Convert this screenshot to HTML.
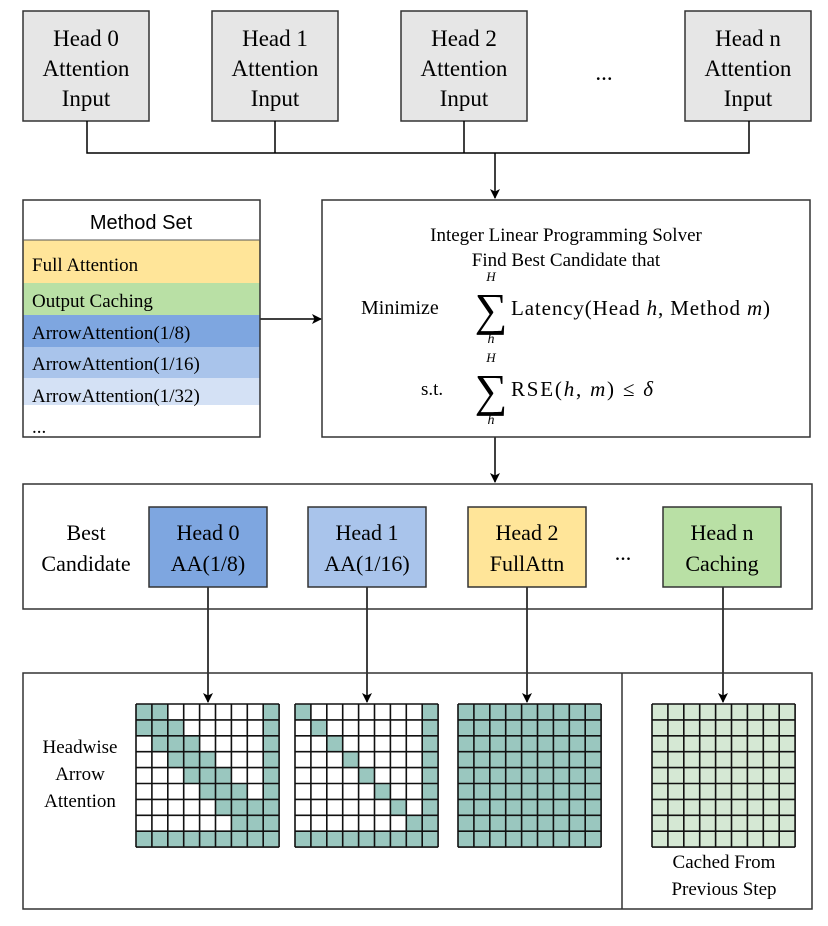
<!DOCTYPE html>
<html><head><meta charset="utf-8"><style>
html,body{margin:0;padding:0;background:#fff;}
svg{display:block;}
text{font-family:"Liberation Serif",serif;fill:#000;}
.s{font-family:"Liberation Sans",sans-serif;}
</style></head><body>
<svg width="828" height="926" viewBox="0 0 828 926" xmlns="http://www.w3.org/2000/svg">
<defs>
<marker id="ar" markerWidth="10" markerHeight="10" refX="9" refY="5" orient="auto" markerUnits="userSpaceOnUse">
<path d="M0,0 L10,5 L0,10 L2.5,5 z" fill="#000"/></marker>
</defs>
<g stroke="#333" stroke-width="1.5" fill="#e6e6e6">
<rect x="23" y="11" width="126" height="110"/>
<rect x="212" y="11" width="126" height="110"/>
<rect x="401" y="11" width="126" height="110"/>
<rect x="685" y="11" width="126" height="110"/>
</g>
<g font-size="23" text-anchor="middle">
<text x="86" y="46">Head 0</text><text x="86" y="76">Attention</text><text x="86" y="106">Input</text>
<text x="275" y="46">Head 1</text><text x="275" y="76">Attention</text><text x="275" y="106">Input</text>
<text x="464" y="46">Head 2</text><text x="464" y="76">Attention</text><text x="464" y="106">Input</text>
<text x="748" y="46">Head n</text><text x="748" y="76">Attention</text><text x="748" y="106">Input</text>
<text x="604" y="80">...</text>
</g>
<g stroke="#000" stroke-width="1.5" fill="none">
<path d="M87 121 V153 H749 V121 M275 121 V153 M464 121 V153"/>
<path d="M495 153 V198" marker-end="url(#ar)"/>
<path d="M260 319 H321" marker-end="url(#ar)"/>
<path d="M495 437 V482" marker-end="url(#ar)"/>
<path d="M208 587 V702" marker-end="url(#ar)"/>
<path d="M367 587 V702" marker-end="url(#ar)"/>
<path d="M527 587 V702" marker-end="url(#ar)"/>
<path d="M723 587 V702" marker-end="url(#ar)"/>
</g>
<rect x="23" y="240" width="237" height="43" fill="#ffe599"/>
<rect x="23" y="283" width="237" height="32" fill="#b9e0a5"/>
<rect x="23" y="315" width="237" height="32" fill="#7ea6e0"/>
<rect x="23" y="347" width="237" height="31" fill="#a9c4eb"/>
<rect x="23" y="378" width="237" height="27" fill="#d4e1f5"/>
<rect x="23" y="200" width="237" height="237" fill="none" stroke="#333" stroke-width="1.5"/>
<line x1="23" y1="240" x2="260" y2="240" stroke="#555" stroke-width="1"/>
<text class="s" x="141" y="229" font-size="20" text-anchor="middle">Method Set</text>
<g font-size="19">
<text x="32" y="271">Full Attention</text>
<text x="32" y="307">Output Caching</text>
<text x="32" y="339">ArrowAttention(1/8)</text>
<text x="32" y="370">ArrowAttention(1/16)</text>
<text x="32" y="402">ArrowAttention(1/32)</text>
<text x="32" y="433">...</text>
</g>
<rect x="322" y="200" width="488" height="237" fill="#fff" stroke="#333" stroke-width="1.5"/>
<g font-size="19">
<text x="566" y="241" text-anchor="middle">Integer Linear Programming Solver</text>
<text x="566" y="266" text-anchor="middle">Find Best Candidate that</text>
<text x="361" y="314" font-size="20">Minimize</text>
<text x="491" y="281" font-size="13" font-style="italic" text-anchor="middle">H</text>
<text x="491" y="325" font-size="46" text-anchor="middle">∑</text>
<text x="491" y="343" font-size="14" font-style="italic" text-anchor="middle">h</text>
<text x="511" y="315" font-size="21" textLength="259" lengthAdjust="spacing">Latency(Head <tspan font-style="italic">h</tspan>, Method <tspan font-style="italic">m</tspan>)</text>
<text x="421" y="395">s.t.</text>
<text x="491" y="362" font-size="13" font-style="italic" text-anchor="middle">H</text>
<text x="491" y="406" font-size="46" text-anchor="middle">∑</text>
<text x="491" y="424" font-size="14" font-style="italic" text-anchor="middle">h</text>
<text x="511" y="396" font-size="21" textLength="142" lengthAdjust="spacing">RSE(<tspan font-style="italic">h</tspan>, <tspan font-style="italic">m</tspan>) ≤ <tspan font-style="italic">δ</tspan></text>
</g>
<rect x="23" y="484" width="789" height="125" fill="none" stroke="#333" stroke-width="1.5"/>
<g stroke="#333" stroke-width="1.5">
<rect x="149" y="507" width="118" height="80" fill="#7ea6e0"/>
<rect x="308" y="507" width="118" height="80" fill="#a9c4eb"/>
<rect x="468" y="507" width="118" height="80" fill="#ffe599"/>
<rect x="663" y="507" width="118" height="80" fill="#b9e0a5"/>
</g>
<g font-size="22" text-anchor="middle">
<text x="86" y="540">Best</text><text x="86" y="571">Candidate</text>
<text x="208" y="540">Head 0</text><text x="208" y="571">AA(1/8)</text>
<text x="367" y="540">Head 1</text><text x="367" y="571">AA(1/16)</text>
<text x="527" y="540">Head 2</text><text x="527" y="571">FullAttn</text>
<text x="722" y="540">Head n</text><text x="722" y="571">Caching</text>
<text x="623" y="560">...</text>
</g>
<rect x="23" y="673" width="789" height="236" fill="none" stroke="#333" stroke-width="1.5"/>
<line x1="622" y1="673" x2="622" y2="909" stroke="#333" stroke-width="1.5"/>
<g font-size="19" text-anchor="middle">
<text x="80" y="753">Headwise</text><text x="80" y="780">Arrow</text><text x="80" y="807">Attention</text>
<text x="724" y="868">Cached From</text><text x="724" y="895">Previous Step</text>
</g>
<g transform="translate(136,704) scale(15.9)">
<rect width="9" height="9" fill="#fff"/>
<g fill="#9ac7bf">
<rect x="0" y="0" width="2" height="1"/><rect x="0" y="1" width="3" height="1"/>
<rect x="1" y="2" width="3" height="1"/><rect x="2" y="3" width="3" height="1"/>
<rect x="3" y="4" width="3" height="1"/><rect x="4" y="5" width="3" height="1"/>
<rect x="5" y="6" width="3" height="1"/><rect x="6" y="7" width="2" height="1"/>
<rect x="8" y="0" width="1" height="9"/><rect x="0" y="8" width="9" height="1"/>
</g>
<path d="M0 0H9M0 1H9M0 2H9M0 3H9M0 4H9M0 5H9M0 6H9M0 7H9M0 8H9M0 9H9M0 0V9M1 0V9M2 0V9M3 0V9M4 0V9M5 0V9M6 0V9M7 0V9M8 0V9M9 0V9" stroke="#111" stroke-width="1.6" fill="none" vector-effect="non-scaling-stroke"/>
</g>
<g transform="translate(295,704) scale(15.9)">
<rect width="9" height="9" fill="#fff"/>
<g fill="#9ac7bf">
<rect x="0" y="0" width="1" height="1"/><rect x="1" y="1" width="1" height="1"/>
<rect x="2" y="2" width="1" height="1"/><rect x="3" y="3" width="1" height="1"/>
<rect x="4" y="4" width="1" height="1"/><rect x="5" y="5" width="1" height="1"/>
<rect x="6" y="6" width="1" height="1"/><rect x="7" y="7" width="1" height="1"/>
<rect x="8" y="0" width="1" height="9"/><rect x="0" y="8" width="9" height="1"/>
</g>
<path d="M0 0H9M0 1H9M0 2H9M0 3H9M0 4H9M0 5H9M0 6H9M0 7H9M0 8H9M0 9H9M0 0V9M1 0V9M2 0V9M3 0V9M4 0V9M5 0V9M6 0V9M7 0V9M8 0V9M9 0V9" stroke="#111" stroke-width="1.6" fill="none" vector-effect="non-scaling-stroke"/>
</g>
<g transform="translate(458,704) scale(15.9)">
<rect width="9" height="9" fill="#9ac7bf"/>
<path d="M0 0H9M0 1H9M0 2H9M0 3H9M0 4H9M0 5H9M0 6H9M0 7H9M0 8H9M0 9H9M0 0V9M1 0V9M2 0V9M3 0V9M4 0V9M5 0V9M6 0V9M7 0V9M8 0V9M9 0V9" stroke="#111" stroke-width="1.6" fill="none" vector-effect="non-scaling-stroke"/>
</g>
<g transform="translate(652,704) scale(15.9)">
<rect width="9" height="9" fill="#d5e8d4"/>
<path d="M0 0H9M0 1H9M0 2H9M0 3H9M0 4H9M0 5H9M0 6H9M0 7H9M0 8H9M0 9H9M0 0V9M1 0V9M2 0V9M3 0V9M4 0V9M5 0V9M6 0V9M7 0V9M8 0V9M9 0V9" stroke="#111" stroke-width="1.6" fill="none" vector-effect="non-scaling-stroke"/>
</g>
</svg>
</body></html>
